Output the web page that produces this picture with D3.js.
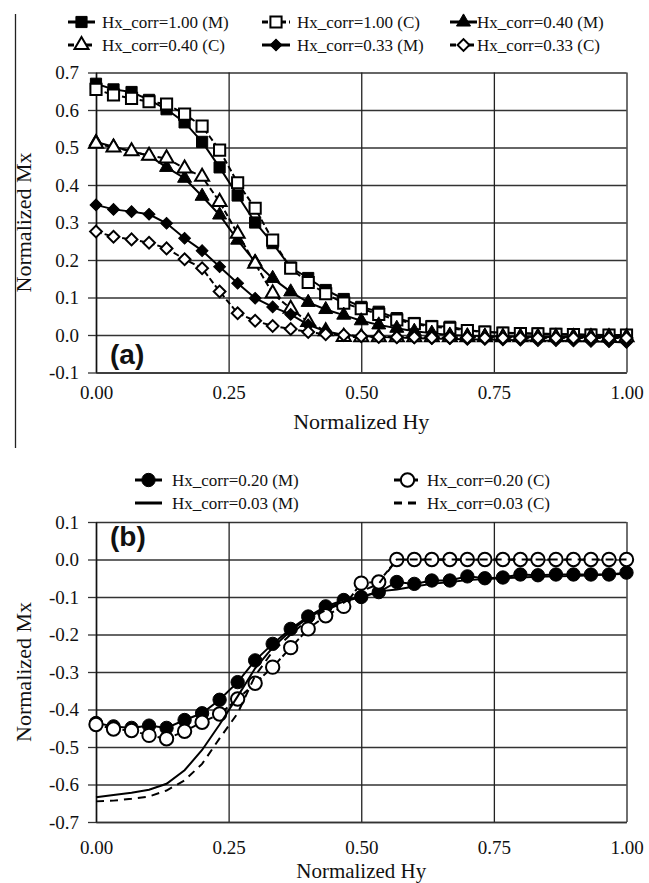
<!DOCTYPE html>
<html><head><meta charset="utf-8">
<script src="https://cdn.jsdelivr.net/npm/d3@7"></script>
<style>body{margin:0;background:#fff}svg{display:block}</style>
</head><body><svg id="c" width="649" height="883"></svg>
<script>
// ---------- data ----------
const hy = [0.000,0.033,0.067,0.100,0.133,0.167,0.200,0.233,0.267,0.300,0.333,0.367,0.400,0.433,0.467,0.500,0.533,0.567,0.600,0.633,0.667,0.700,0.733,0.767,0.800,0.833,0.867,0.900,0.933,0.967,1.000];
const xTicks = [0, 0.25, 0.5, 0.75, 1.0];
const xTickLabels = ["0.00","0.25","0.50","0.75","1.00"];
const yTicksA = [-0.1,0.0,0.1,0.2,0.3,0.4,0.5,0.6,0.7];
const yTicksB = [-0.7,-0.6,-0.5,-0.4,-0.3,-0.2,-0.1,0.0,0.1];

// panel (a)
const m100 = [0.670,0.655,0.648,0.627,0.602,0.567,0.515,0.447,0.372,0.300,0.245,0.180,0.152,0.120,0.096,0.075,0.062,0.045,0.032,0.024,0.022,0.013,0.009,0.006,0.005,0.004,0.003,0.002,0.001,0.000,0.000];
const c100 = [0.655,0.640,0.631,0.622,0.616,0.589,0.557,0.493,0.406,0.338,0.253,0.178,0.140,0.110,0.085,0.070,0.055,0.040,0.030,0.022,0.018,0.012,0.008,0.005,0.004,0.003,0.002,0.001,0.000,0.000,0.000];
const m040 = [0.515,0.502,0.490,0.478,0.447,0.418,0.370,0.320,0.253,0.195,0.151,0.115,0.087,0.068,0.053,0.038,0.027,0.018,0.010,0.005,0.000,-0.002,-0.003,-0.004,-0.005,-0.005,-0.005,-0.005,-0.005,-0.005,-0.005];
const c040 = [0.510,0.500,0.490,0.478,0.471,0.444,0.422,0.355,0.270,0.190,0.111,0.070,0.035,0.010,-0.005,-0.006,-0.006,-0.006,-0.006,-0.006,-0.006,-0.006,-0.006,-0.006,-0.006,-0.006,-0.006,-0.006,-0.006,-0.006,-0.006];
const m033 = [0.347,0.335,0.329,0.322,0.298,0.258,0.225,0.182,0.138,0.098,0.075,0.055,0.027,0.010,0.000,-0.003,-0.005,-0.007,-0.008,-0.010,-0.010,-0.012,-0.012,-0.013,-0.014,-0.015,-0.015,-0.016,-0.017,-0.018,-0.020];
const c033 = [0.276,0.262,0.255,0.246,0.231,0.202,0.178,0.116,0.058,0.038,0.024,0.016,0.008,0.002,0.000,-0.003,-0.005,-0.006,-0.006,-0.007,-0.007,-0.007,-0.008,-0.008,-0.008,-0.008,-0.008,-0.008,-0.008,-0.008,-0.008];

// panel (b)
const m020 = [-0.436,-0.445,-0.449,-0.443,-0.449,-0.428,-0.410,-0.374,-0.327,-0.269,-0.225,-0.185,-0.152,-0.125,-0.108,-0.100,-0.087,-0.060,-0.065,-0.056,-0.056,-0.045,-0.050,-0.048,-0.040,-0.042,-0.040,-0.040,-0.040,-0.040,-0.035];
const c020 = [-0.440,-0.452,-0.456,-0.469,-0.478,-0.458,-0.434,-0.412,-0.372,-0.330,-0.287,-0.235,-0.185,-0.150,-0.125,-0.063,-0.060,0.000,0.000,0.000,0.000,0.000,0.000,0.000,0.000,0.000,0.000,0.000,0.000,0.000,0.000];
const m003 = [-0.634,-0.628,-0.622,-0.614,-0.598,-0.562,-0.508,-0.440,-0.365,-0.290,-0.235,-0.190,-0.155,-0.130,-0.112,-0.100,-0.085,-0.080,-0.072,-0.065,-0.060,-0.055,-0.052,-0.050,-0.048,-0.046,-0.045,-0.044,-0.042,-0.040,-0.038];
const c003 = [-0.645,-0.643,-0.638,-0.632,-0.616,-0.589,-0.545,-0.477,-0.410,-0.310,-0.245,-0.200,-0.160,-0.135,-0.115,-0.085,-0.065,0.000,0.000,0.000,0.000,0.000,0.000,0.000,0.000,0.000,0.000,0.000,0.000,0.000,0.000];

const namesA = ["Hx_corr=1.00 (M)","Hx_corr=1.00 (C)","Hx_corr=0.40 (M)","Hx_corr=0.40 (C)","Hx_corr=0.33 (M)","Hx_corr=0.33 (C)"];
const namesB = ["Hx_corr=0.20 (M)","Hx_corr=0.20 (C)","Hx_corr=0.03 (M)","Hx_corr=0.03 (C)"];

// ---------- styling ----------
const serif = "'Liberation Serif','Times New Roman',Times,serif";
const svg = d3.select("#c");
svg.append("rect").attr("width",649).attr("height",883).attr("fill","#fff");

const x = d3.scaleLinear().domain([0,1]).range([96,626.5]);
const yA = d3.scaleLinear().domain([-0.1,0.7]).range([372.5,72.5]);
const yB = d3.scaleLinear().domain([-0.7,0.1]).range([822,522]);

const symSize = {square:125, triangle:85, diamond:70, circle:140};
function symPath(shape){
  const t = shape==="square"||shape==="diamond" ? d3.symbolSquare : shape==="triangle" ? d3.symbolTriangle : d3.symbolCircle;
  return d3.symbol().type(t).size(symSize[shape])();
}

const seriesA = [
  {name:namesA[0], vals:m100, shape:"square", filled:true, dash:null},
  {name:namesA[1], vals:c100, shape:"square", filled:false, dash:"6,3"},
  {name:namesA[2], vals:m040, shape:"triangle", filled:true, dash:null},
  {name:namesA[3], vals:c040, shape:"triangle", filled:false, dash:"6,3"},
  {name:namesA[4], vals:m033, shape:"diamond", filled:true, dash:null},
  {name:namesA[5], vals:c033, shape:"diamond", filled:false, dash:"6,3"}
];
const seriesB = [
  {name:namesB[0], vals:m020, shape:"circle", filled:true, dash:null},
  {name:namesB[1], vals:c020, shape:"circle", filled:false, dash:"6,3"},
  {name:namesB[2], vals:m003, shape:null, filled:true, dash:null},
  {name:namesB[3], vals:c003, shape:null, filled:true, dash:"8,6"}
];

function panel(y, yTicks, series, label, labelY, xLabPad, xTitleY, xTitleSize){
  const g = svg.append("g");
  // gridlines
  g.append("g").attr("transform","translate(96,0)")
    .call(d3.axisLeft(y).tickValues(yTicks).tickSize(-(x(1)-x(0))).tickFormat(""))
    .call(s=>{s.select(".domain").remove(); s.selectAll("line").attr("stroke","#333").attr("stroke-width",1.3);});
  g.append("g").attr("transform",`translate(0,${y.range()[0]})`)
    .call(d3.axisBottom(x).tickValues(xTicks).tickSize(-(y.range()[0]-y.range()[1])).tickFormat(""))
    .call(s=>{s.select(".domain").remove(); s.selectAll("line").attr("stroke","#222").attr("stroke-width",1.3);});
  // y axis with outward ticks
  g.append("g").attr("transform","translate(96,0)")
    .call(d3.axisLeft(y).tickValues(yTicks).tickSize(8).tickSizeOuter(0).tickPadding(9).tickFormat(d=>d.toFixed(1)))
    .call(s=>{s.select(".domain").attr("stroke","#111").attr("stroke-width",1.5);
      s.selectAll("line").attr("stroke","#333").attr("stroke-width",1.3);
      s.selectAll("text").attr("font-family",serif).attr("font-size",19).attr("fill","#111");});
  // x axis labels
  g.append("g").attr("transform",`translate(0,${y.range()[0]})`)
    .call(d3.axisBottom(x).tickValues(xTicks).tickSize(0).tickSizeOuter(0).tickPadding(xLabPad).tickFormat((d,i)=>xTickLabels[i]))
    .call(s=>{s.select(".domain").attr("stroke","#333").attr("stroke-width",1.3);
      s.selectAll("text").attr("font-family",serif).attr("font-size",19).attr("fill","#111");});
  // titles
  g.append("text").attr("x",x(0.5)).attr("y",xTitleY).attr("text-anchor","middle")
    .attr("font-family",serif).attr("font-size",xTitleSize).attr("fill","#111").text("Normalized Hy");
  const cy = (y.range()[0]+y.range()[1])/2;
  g.append("text").attr("transform",`translate(31,${cy}) rotate(-90)`).attr("text-anchor","middle")
    .attr("font-family",serif).attr("font-size",22).attr("fill","#111").text("Normalized Mx");
  // series
  const line = d3.line().x((d,i)=>x(hy[i])).y(d=>y(d));
  series.forEach(s=>{
    const sg = g.append("g");
    sg.append("path").attr("d",line(s.vals)).attr("fill","none").attr("stroke","#000")
      .attr("stroke-width",2).attr("stroke-dasharray",s.dash);
    if(s.shape){
      sg.selectAll("path.m").data(s.vals).join("path").attr("class","m")
        .attr("d",symPath(s.shape))
        .attr("transform",(d,i)=>`translate(${x(hy[i])},${y(d)})`+(s.shape==="diamond"?" rotate(45)":""))
        .attr("fill",s.filled?"#000":"#fff").attr("stroke","#000").attr("stroke-width",s.filled?1:2);
    }
  });
  // panel label
  g.append("text").attr("x",110).attr("y",labelY).attr("font-family","'Liberation Sans',Arial,sans-serif")
    .attr("font-weight","bold").attr("font-size",28).attr("fill","#111").text(label);
}

panel(yA, yTicksA, seriesA, "(a)", 364, 13, 429, 22);
panel(yB, yTicksB, seriesB, "(b)", 546, 19, 878, 21);

// left border line
svg.append("line").attr("x1",15.5).attr("x2",15.5).attr("y1",14).attr("y2",448).attr("stroke","#222").attr("stroke-width",1.3);

// legends
function legend(series, items){
  items.forEach((it,k)=>{
    const s = series[k];
    const g = svg.append("g");
    g.append("line").attr("x1",it.x1).attr("x2",it.x2).attr("y1",it.y).attr("y2",it.y)
      .attr("stroke","#000").attr("stroke-width",3).attr("stroke-dasharray",s.dash? (s.shape?"6,3":"8,6"):null);
    if(s.shape){
      g.append("path").attr("d",symPath(s.shape))
        .attr("transform",`translate(${(it.x1+it.x2)/2},${it.y})`+(s.shape==="diamond"?" rotate(45)":""))
        .attr("fill",s.filled?"#000":"#fff").attr("stroke","#000").attr("stroke-width",s.filled?1:2);
    }
    g.append("text").attr("x",it.tx).attr("y",it.y+6).attr("font-family",serif).attr("font-size",17)
      .attr("fill","#111").text(s.name);
  });
}
legend(seriesA, [
  {x1:68,x2:95,y:22,tx:102},{x1:262,x2:290,y:22,tx:297},{x1:450,x2:477,y:22,tx:477},
  {x1:68,x2:95,y:45,tx:102},{x1:262,x2:290,y:45,tx:297},{x1:450,x2:477,y:45,tx:477}
]);
legend(seriesB, [
  {x1:135,x2:162,y:480,tx:172},{x1:394,x2:421,y:480,tx:427},
  {x1:135,x2:162,y:503,tx:172},{x1:394,x2:421,y:503,tx:427}
]);
</script></body></html>
